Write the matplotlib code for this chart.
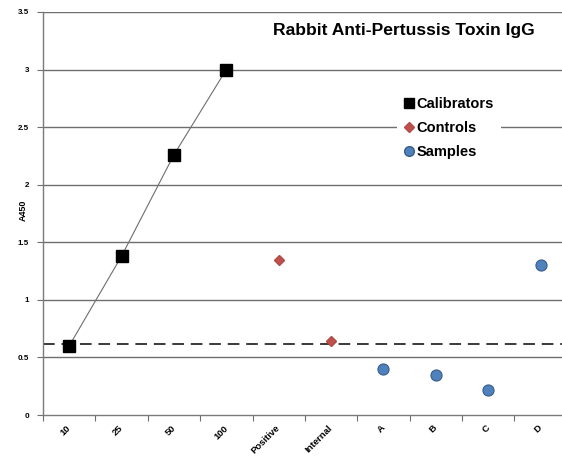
import matplotlib
matplotlib.use("Agg")
import matplotlib.pyplot as plt
from matplotlib.lines import Line2D
from matplotlib.transforms import ScaledTranslation

categories = ["10", "25", "50", "100", "Positive", "Internal", "A", "B", "C", "D"]
calibrator_labels = ["10", "25", "50", "100"]
calibrator_values = [0.60, 1.38, 2.26, 3.00]
control_labels = ["Positive", "Internal"]
control_values = [1.35, 0.64]
sample_labels = ["A", "B", "C", "D"]
sample_values = [0.40, 0.35, 0.22, 1.30]
cutoff = 0.62
yticks = [0, 0.5, 1, 1.5, 2, 2.5, 3, 3.5]
ytick_labels = ["0", "0.5", "1", "1.5", "2", "2.5", "3", "3.5"]

plt.rcParams['font.family'] = ['Liberation Sans', 'DejaVu Sans']

W, H = 562, 458
fig = plt.figure(figsize=(W / 100, H / 100), dpi=100)
ax_left, ax_right, ax_top, ax_bottom = 43, 562, 12, 415
ax = fig.add_axes([ax_left / W, 1 - ax_bottom / H, (ax_right - ax_left) / W, (ax_bottom - ax_top) / H])

pos = {c: i for i, c in enumerate(categories)}

for y in yticks[1:]:
    ax.axhline(y, color='#6e6e6e', lw=1.0, zorder=1)

ax.axhline(cutoff, color='#3a3a3a', lw=1.4, ls=(0, (6, 3.5)), zorder=2)

ax.plot([pos[c] for c in calibrator_labels], calibrator_values, color='#6e6e6e', lw=0.8,
        marker='s', ms=9, mfc='black', mec='black', zorder=4)
ax.plot([pos[c] for c in control_labels], control_values, ls='none', marker='D', ms=5.5,
        mfc='#c0504d', mec='#b04a47', zorder=4)
ax.plot([pos[c] for c in sample_labels], sample_values, ls='none', marker='o', ms=8,
        mfc='#4f81bd', mec='#385d8a', mew=0.8, zorder=4)

step = 52.4
ax.set_xlim(-26 / step, (ax_right - ax_left - 26) / step)
ax.set_ylim(0, 3.5)
ax.set_yticks(yticks)
ax.set_yticklabels(ytick_labels, fontsize=5.8, fontweight='bold')
ax.set_xticks([i - 0.5 for i in range(len(categories))])
ax.set_xticklabels([])
ax.set_xticks(list(range(len(categories))), minor=True)
ax.set_xticklabels(categories, minor=True, rotation=45, ha='right', va='center',
                   rotation_mode='anchor', fontsize=6.8, fontweight='bold')
offset = ScaledTranslation(3 / 72, 0, fig.dpi_scale_trans)
for lbl in ax.get_xticklabels(minor=True):
    lbl.set_transform(lbl.get_transform() + offset)
ax.tick_params(axis='x', which='minor', length=0, pad=8.5)
ax.tick_params(axis='x', which='major', length=4, color='#6e6e6e', direction='out')
ax.tick_params(axis='y', length=4, color='#6e6e6e', direction='out', pad=6)

for s in ['top', 'right']:
    ax.spines[s].set_visible(False)
for s in ['left', 'bottom']:
    ax.spines[s].set_color('#7a7a7a')
    ax.spines[s].set_linewidth(1.0)

ax.set_ylabel("A450", fontsize=6.5, fontweight='bold')
ax.yaxis.set_label_coords((28 - ax_left) / (ax_right - ax_left), (ax_bottom - 210) / (ax_bottom - ax_top))

fig.text(404 / W, 1 - 30 / H, "Rabbit Anti-Pertussis Toxin IgG",
         fontsize=12.6, fontweight='bold', ha='center', va='center')

handles = [
    Line2D([], [], ls='none', marker='s', ms=7, mfc='black', mec='black'),
    Line2D([], [], ls='none', marker='D', ms=5, mfc='#c0504d', mec='#b04a47'),
    Line2D([], [], ls='none', marker='o', ms=7, mfc='#4f81bd', mec='#385d8a'),
]
leg = ax.legend(handles, ["Calibrators", "Controls", "Samples"], loc='center',
                bbox_to_anchor=((449 - ax_left) / (ax_right - ax_left), (ax_bottom - 128) / (ax_bottom - ax_top)),
                frameon=True, fancybox=False,
                edgecolor='none', facecolor='white', framealpha=1.0,
                prop={'weight': 'bold', 'size': 10.5}, handlelength=0.6,
                handletextpad=0.2, labelspacing=0.7, borderpad=0.5)
leg.set_zorder(5)

fig.savefig("out.png", dpi=100)
